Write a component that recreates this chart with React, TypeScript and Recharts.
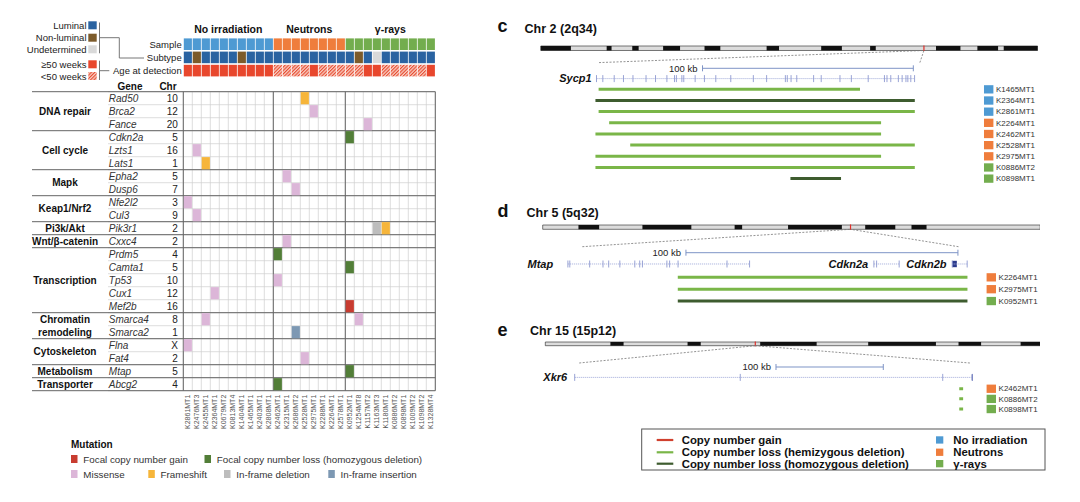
import React from 'react';
import {
  ComposedChart, Scatter, Line, XAxis, YAxis,
  ReferenceLine, ReferenceArea, ReferenceDot,
} from 'recharts';

const FONT = '"Liberation Sans", Arial, Helvetica, sans-serif';

// ---------- oncoprint: samples in column order ----------
const samples = [
  'K2861MT1', 'K2476MT3', 'K2455MT1', 'K2364MT1', 'K0679MT2', 'K0813MT4', 'K1404MT1', 'K1465MT1', 'K2403MT1', 'K2808MT1',
  'K2462MT1', 'K2315MT1', 'K2686MT2', 'K2528MT1', 'K2975MT1', 'K2288MT1', 'K2264MT1', 'K2578MT1',
  'K0952MT1', 'K1254MT8', 'K1157MT2', 'K1163MT3', 'K1180MT1', 'K0886MT2', 'K0898MT1', 'K1009MT2', 'K1098MT2', 'K1328MT4',
];
const treatments = [
  'none', 'none', 'none', 'none', 'none', 'none', 'none', 'none', 'none', 'none',
  'neutrons', 'neutrons', 'neutrons', 'neutrons', 'neutrons', 'neutrons', 'neutrons', 'neutrons',
  'gamma', 'gamma', 'gamma', 'gamma', 'gamma', 'gamma', 'gamma', 'gamma', 'gamma', 'gamma',
];
const subtypes = [
  'luminal', 'non-luminal', 'luminal', 'luminal', 'luminal', 'luminal', 'non-luminal', 'luminal', 'luminal', 'luminal',
  'luminal', 'luminal', 'luminal', 'luminal', 'luminal', 'luminal', 'luminal', 'luminal',
  'luminal', 'non-luminal', 'luminal', 'undetermined', 'luminal', 'luminal', 'luminal', 'luminal', 'luminal', 'luminal',
];
const ageOver50 = [
  true, true, true, true, true, true, true, true, true, true,
  false, false, false, false, true, false, false, false,
  false, false, true, true, false, false, false, false, false, true,
];
const treatmentKeys = ['none', 'neutrons', 'gamma'];
const treatmentLabels = ['No irradiation', 'Neutrons', 'γ-rays'];
const headerRowLabels = ['Sample', 'Subtype', 'Age at detection'];

const genes = ['Rad50', 'Brca2', 'Fance', 'Cdkn2a', 'Lzts1', 'Lats1', 'Epha2', 'Dusp6', 'Nfe2l2', 'Cul3', 'Pik3r1', 'Cxxc4',
  'Prdm5', 'Camta1', 'Tp53', 'Cux1', 'Mef2b', 'Smarca4', 'Smarca2', 'Flna', 'Fat4', 'Mtap', 'Abcg2'];
const chromosomes = ['10', '12', '20', '5', '16', '1', '5', '7', '3', '9', '2', '2',
  '4', '5', '10', '12', '16', '8', '1', 'X', '2', '5', '4'];
const pathwayNames = ['DNA repair', 'Cell cycle', 'Mapk', 'Keap1/Nrf2', 'Pi3k/Akt', 'Wnt/β-catenin', 'Transcription',
  'Chromatin remodeling', 'Cytoskeleton', 'Metabolism', 'Transporter'];
const pathwaySizes = [3, 3, 2, 2, 1, 1, 5, 2, 2, 1, 1];

// [gene, sample, mutation]
const mutations = [
  ['Rad50', 'K2528MT1', 'frameshift'],
  ['Brca2', 'K2975MT1', 'missense'],
  ['Fance', 'K1157MT2', 'missense'],
  ['Cdkn2a', 'K0952MT1', 'loss'],
  ['Lzts1', 'K2476MT3', 'missense'],
  ['Lats1', 'K2455MT1', 'frameshift'],
  ['Epha2', 'K2315MT1', 'missense'],
  ['Dusp6', 'K2686MT2', 'missense'],
  ['Nfe2l2', 'K2861MT1', 'missense'],
  ['Cul3', 'K2476MT3', 'missense'],
  ['Pik3r1', 'K1163MT3', 'deletion'],
  ['Pik3r1', 'K1180MT1', 'frameshift'],
  ['Cxxc4', 'K2315MT1', 'missense'],
  ['Prdm5', 'K2462MT1', 'loss'],
  ['Camta1', 'K0952MT1', 'loss'],
  ['Tp53', 'K2462MT1', 'missense'],
  ['Cux1', 'K2364MT1', 'missense'],
  ['Mef2b', 'K0952MT1', 'gain'],
  ['Smarca4', 'K2455MT1', 'missense'],
  ['Smarca4', 'K1254MT8', 'missense'],
  ['Smarca2', 'K2686MT2', 'insertion'],
  ['Flna', 'K2861MT1', 'missense'],
  ['Fat4', 'K2528MT1', 'missense'],
  ['Mtap', 'K0952MT1', 'loss'],
  ['Abcg2', 'K2462MT1', 'loss'],
];

// ---------- c: Chr 2 (2q34) ----------
const chr2Length = 132;
const chr2DarkBands = [[0, 8], [17.5, 18.8], [24.3, 26], [32.5, 37], [43.5, 47.7], [60, 63.3], [74.5, 80], [87.5, 89],
  [105, 111.5], [116, 121.5], [123, 132]];
const chr2Mark = 101.8;
const sycp1Exons = [0, 3, 8.4, 12.8, 17.3, 23.5, 28, 33.4, 37, 37.9, 40.5, 41.4, 46.8, 51.2, 56.6, 63.7, 74.4, 80.7,
  89.6, 90.5, 92.3, 95, 103, 106.6, 115.5, 120.9, 128.9, 136.6, 137.8, 139.6, 143.2, 145, 146.8, 147.7, 149.1, 150.9];
const chr2Samples = ['K1465MT1', 'K2364MT1', 'K2861MT1', 'K2264MT1', 'K2462MT1', 'K2528MT1', 'K2975MT1', 'K0886MT2', 'K0898MT1'];
const chr2Starts = [1, -0.5, 1, 6, -0.5, 16, -0.5, -0.5, 92];
const chr2Ends = [125, 151, 151, 135, 135, 151, 135, 151, 116];
const chr2Kinds = ['hemi', 'homo', 'hemi', 'hemi', 'hemi', 'hemi', 'hemi', 'hemi', 'homo'];

// ---------- d: Chr 5 (5q32) ----------
const chr5Length = 132.2;
const chr5DarkBands = [[9.5, 15], [26.5, 39.5], [51, 53], [65.2, 79.5], [85.7, 93.7], [98, 102]];
const chr5Mark = 81.8;
const mtapExons = [0, 0.7, 8, 12.9, 15, 19.1, 24.6, 26.4, 27.4, 36.4, 37.4, 40.5, 58.5, 66.8];
const cdkn2aExons = [112.5, 113.5, 121.8];
const cdkn2bExons = [141.3, 146.8];
const chr5Samples = ['K2264MT1', 'K2975MT1', 'K0952MT1'];
const chr5Starts = [40.4, 40.4, 40.4];
const chr5Ends = [146.9, 146.9, 146.9];
const chr5Kinds = ['hemi', 'hemi', 'homo'];

// ---------- e: Chr 15 (15p12) ----------
const chr15Length = 131.5;
const chr15DarkBands = [[17.3, 20.8], [37.8, 41.3], [57.1, 72.1], [85.8, 103.8], [109.8, 115.8], [126.3, 131.5]];
const chr15Mark = 55.8;
const xkr6Exons = [0, 154.3, 343, 370.7];
const chr15Samples = ['K2462MT1', 'K0886MT2', 'K0898MT1'];
const chr15Starts = [358.4, 358.4, 358.4];
const chr15Ends = [362, 362, 362];
const chr15Kinds = ['hemi', 'hemi', 'hemi'];

// ---------- colours ----------
const treatmentColors: Record<string, string> = { none: '#4e9ad3', neutrons: '#ef7d3c', gamma: '#73ad4e' };
const subtypeColors: Record<string, string> = { luminal: '#2a63a1', 'non-luminal': '#7c5b2b', undetermined: '#d9d9d9' };
const AGE_OLD = '#e8472d';
const mutationColors: Record<string, string> = {
  gain: '#c83c30', loss: '#527e38', missense: '#dcb6d8', frameshift: '#f6b53a', deletion: '#bdbdbd', insertion: '#7d98b3',
};
const cnvColors: Record<string, string> = { gain: '#d0402e', hemi: '#7ab648', homo: '#3e5c2f' };
const GENE_COLOR = '#8d99d0';

// ---------- oncoprint layout ----------
const GRID = { left: 183.3, colW: 9, rowH: 13 };
const colAt = (px: number) => -0.5 + (px - GRID.left) / GRID.colW;

const pathwayStarts = pathwaySizes.map((_, i) => pathwaySizes.slice(0, i).reduce((a, b) => a + b, 0));
const pathwayCenters = pathwayStarts.map((s, i) => s + (pathwaySizes[i] - 1) / 2);
const pathwayBounds = [-0.5, ...pathwayStarts.map((s, i) => s + pathwaySizes[i] - 0.5)];
const treatmentCenters = treatmentKeys.map((k) => {
  const idx = treatments.map((t, i) => (t === k ? i : -1)).filter((i) => i >= 0);
  return (idx[0] + idx[idx.length - 1]) / 2;
});

const mutationCells = mutations.map(([g, s, t]) => ({ col: samples.indexOf(s), row: genes.indexOf(g), type: t }));
const headerCells = samples.flatMap((_, i) => [
  { col: i, row: 0, fill: treatmentColors[treatments[i]] },
  { col: i, row: 1, fill: subtypeColors[subtypes[i]] },
  { col: i, row: 2, fill: ageOver50[i] ? AGE_OLD : 'url(#hatch50)' },
]);

const MutCell = (p: any) => (
  <rect x={p.cx - 4.1} y={p.cy - 6.1} width={8.2} height={12.2} fill={mutationColors[p.payload.type]} />
);
const HeaderCell = (p: any) => (
  <rect x={p.cx - 4.1} y={p.cy - 5.8} width={8.2} height={11.6} fill={p.payload.fill} />
);

const GeneTick = ({ x, y, payload }: any) => (
  <g>
    <text x={x - 74.5} y={y} dy="0.35em" fontSize={10} fontStyle="italic" fill="#333">{genes[payload.value]}</text>
    <text x={x - 5.5} y={y} dy="0.35em" fontSize={10} textAnchor="end" fill="#222">{chromosomes[payload.value]}</text>
  </g>
);

const GroupTick = ({ x, y, payload }: any) => {
  const i = pathwayCenters.findIndex((c) => Math.abs(c - payload.value) < 1e-6);
  const name = pathwayNames[i] || '';
  const lines = name.length > 14 ? name.split(' ') : [name];
  return (
    <g>
      {lines.map((l, k) => (
        <text key={k} x={x - 118.3} y={y + (k - (lines.length - 1) / 2) * 12.6} dy="0.35em"
          fontSize={10} fontWeight="bold" textAnchor="middle" fill="#111">{l}</text>
      ))}
    </g>
  );
};

const SampleTick = ({ x, y, payload }: any) => (
  <text transform={`translate(${x},${y}) rotate(-90)`} textAnchor="end" dy="0.35em" fontSize={7} fill="#555">
    {samples[payload.value]}
  </text>
);

const TreatmentTick = ({ x, y, payload }: any) => {
  const i = treatmentCenters.indexOf(payload.value);
  return (
    <text x={x} y={y - 4.3} textAnchor="middle" fontSize={10.5} fontWeight="bold" fill="#111">{treatmentLabels[i]}</text>
  );
};

const HeaderRowTick = ({ x, y, payload }: any) => (
  <text x={x - 1.6} y={y} dy="0.35em" textAnchor="end" fontSize={9.5} fill="#222">{headerRowLabels[payload.value]}</text>
);

const Oncoprint = () => (
  <>
    {/* annotation strips */}
    <div style={{ position: 'absolute', left: 0, top: 0 }}>
      <ComposedChart width={440} height={80} margin={{ top: 17.6, right: 4.7, bottom: 2.8, left: 0 }}>
        <XAxis xAxisId="col" dataKey="col" type="number" domain={[-0.5, samples.length - 0.5]} allowDataOverflow
          orientation="top" ticks={treatmentCenters} interval={0} tick={TreatmentTick} tickSize={0} tickMargin={0}
          axisLine={false} tickLine={false} height={20} />
        <YAxis yAxisId="row" dataKey="row" type="number" domain={[-0.5, 2.5]} allowDataOverflow reversed
          ticks={[0, 1, 2]} interval={0} tick={HeaderRowTick} tickSize={0} tickMargin={0}
          axisLine={false} tickLine={false} width={GRID.left} />
        <Scatter xAxisId="col" yAxisId="row" data={headerCells} shape={HeaderCell} isAnimationActive={false} />
      </ComposedChart>
    </div>

    {/* mutation grid */}
    <div style={{ position: 'absolute', left: 0, top: 80 }}>
      <ComposedChart width={440} height={360} margin={{ top: 11.7, right: 4.7, bottom: 4.3, left: 0 }}>
        <XAxis xAxisId="col" dataKey="col" type="number" domain={[-0.5, samples.length - 0.5]} allowDataOverflow
          ticks={samples.map((_, i) => i)} interval={0} tick={SampleTick} tickSize={0} tickMargin={4}
          axisLine={false} tickLine={false} height={45} />
        <YAxis yAxisId="row" dataKey="row" type="number" domain={[-0.5, genes.length - 0.5]} allowDataOverflow reversed
          ticks={genes.map((_, i) => i)} interval={0} tick={GeneTick} tickSize={0} tickMargin={0}
          axisLine={false} tickLine={false} width={GRID.left} />
        <YAxis yAxisId="grp" type="number" domain={[-0.5, genes.length - 0.5]} allowDataOverflow reversed mirror
          ticks={pathwayCenters} interval={0} tick={GroupTick} tickSize={0} tickMargin={0}
          axisLine={false} tickLine={false} />

        {[...samples, ''].map((_, i) => (
          <ReferenceLine key={'v' + i} xAxisId="col" yAxisId="row" x={i - 0.5} stroke="#cfcfcf" strokeWidth={0.7} />
        ))}
        {[...genes, ''].map((_, i) => (
          <ReferenceLine key={'h' + i} xAxisId="col" yAxisId="row" ifOverflow="visible" stroke="#cfcfcf" strokeWidth={0.7}
            segment={[{ x: colAt(108), y: i - 0.5 }, { x: samples.length - 0.5, y: i - 0.5 }]} />
        ))}
        {pathwayBounds.map((b, i) => (
          <ReferenceLine key={'g' + i} xAxisId="col" yAxisId="row" ifOverflow="visible" stroke="#666" strokeWidth={1}
            segment={[{ x: colAt(32), y: b }, { x: samples.length - 0.5, y: b }]} />
        ))}
        {[-0.5, 9.5, 17.5, samples.length - 0.5].map((b) => (
          <ReferenceLine key={'s' + b} xAxisId="col" yAxisId="row" x={b} stroke="#666" strokeWidth={1} />
        ))}

        <Scatter xAxisId="col" yAxisId="row" data={mutationCells} shape={MutCell} isAnimationActive={false} />
      </ComposedChart>
    </div>
  </>
);

// ---------- chromosome panels ----------
const ExonTick = (p: any) => (
  <line x1={p.cx} x2={p.cx} y1={p.cy - 3.5} y2={p.cy + 3.5} stroke={GENE_COLOR} strokeWidth={0.9} />
);
const ScaleTick = (p: any) => (
  <line x1={p.cx} x2={p.cx} y1={p.cy - 3} y2={p.cy + 3} stroke="#7d94c6" strokeWidth={1} />
);

const sideLabel = (text: string, gap: number, style: any) => (p: any) => (
  <text x={p.viewBox.x - gap} y={p.viewBox.y} dy="0.35em" textAnchor="end" {...style}>{text}</text>
);

const PANEL_LEFT = 490;

const GenePanel = ({ L, ideoLength, darkBands, mark, geneDefs, scaleBar, zoomEdges, names, starts, ends, kinds }: any) => {
  const top = L.ideoTop - 4;
  const bottom = L.bar0Y + (names.length - 1) * L.rowPx + 6;
  const toRow = (py: number) => (py - L.bar0Y) / L.rowPx;
  const kbDomain = [(L.ideoLeft - L.originPx) / L.pxPerKb, (L.ideoRight - L.originPx) / L.pxPerKb];
  const markKb = kbDomain[0] + (mark / ideoLength) * (kbDomain[1] - kbDomain[0]);
  const ideoY1 = toRow(L.ideoTop);
  const ideoY2 = toRow(L.ideoBot);
  const geneRow = toRow(L.geneY);
  const scaleRow = toRow(L.scaleY);
  const dashRow = toRow(L.dashY);
  const half = 3.2 / L.rowPx;

  const LegendTick = ({ x, y, payload }: any) => {
    const name = names[payload.value];
    const color = treatmentColors[treatments[samples.indexOf(name)]];
    return (
      <g>
        <rect x={x - 53.6} y={y - 4.1} width={9.4} height={8.3} fill={color} />
        <text x={x - 41.6} y={y} dy="0.35em" fontSize={8} fill="#333">{name}</text>
      </g>
    );
  };

  return (
    <div style={{ position: 'absolute', left: PANEL_LEFT, top }}>
      <ComposedChart width={L.ideoRight - PANEL_LEFT} height={bottom - top}
        margin={{ top: 0, right: 0, bottom: 0, left: L.ideoLeft - PANEL_LEFT }}>
        <XAxis xAxisId="kb" dataKey="kb" type="number" domain={kbDomain} allowDataOverflow hide />
        <XAxis xAxisId="ideo" dataKey="mb" type="number" domain={[0, ideoLength]} allowDataOverflow hide />
        <YAxis yAxisId="row" dataKey="row" type="number" domain={[toRow(top), toRow(bottom)]} allowDataOverflow reversed
          orientation="right" mirror ticks={names.map((_: any, i: number) => i)} interval={0} tick={LegendTick}
          tickSize={0} tickMargin={0} axisLine={false} tickLine={false} />

        {/* ideogram */}
        <ReferenceArea xAxisId="ideo" yAxisId="row" x1={0} x2={ideoLength} y1={ideoY1} y2={ideoY2}
          fill="#dcdcdc" fillOpacity={1} stroke="#222" strokeWidth={0.6} ifOverflow="visible" />
        {darkBands.map(([s, e]: number[], i: number) => (
          <ReferenceArea key={i} xAxisId="ideo" yAxisId="row" x1={s} x2={e} y1={ideoY1} y2={ideoY2}
            fill="#111" fillOpacity={1} ifOverflow="visible" />
        ))}
        <ReferenceLine xAxisId="ideo" yAxisId="row" ifOverflow="visible" stroke="#e0302a" strokeWidth={1.2}
          segment={[{ x: mark, y: ideoY1 - 0.05 }, { x: mark, y: ideoY2 + 0.05 }]} />

        {/* zoom-in guides */}
        {zoomEdges.map((z: number, i: number) => (
          <ReferenceLine key={'z' + i} xAxisId="kb" yAxisId="row" ifOverflow="visible" stroke="#777" strokeWidth={0.8}
            strokeDasharray="2 1.5" segment={[{ x: z, y: dashRow }, { x: markKb, y: ideoY2 }]} />
        ))}

        {/* 100 kb scale bar */}
        <Scatter xAxisId="kb" yAxisId="row" data={scaleBar.map((kb: number) => ({ kb, row: scaleRow }))}
          line={{ stroke: '#7d94c6', strokeWidth: 1 }} shape={ScaleTick} isAnimationActive={false} />
        <ReferenceDot xAxisId="kb" yAxisId="row" x={scaleBar[0]} y={scaleRow} r={0} ifOverflow="visible"
          label={sideLabel('100 kb', 5, { fontSize: 9.5, fill: '#222' })} />

        {/* gene models */}
        {geneDefs.map((g: any) => (
          <Scatter key={g.name} xAxisId="kb" yAxisId="row" data={g.exons.map((kb: number) => ({ kb, row: geneRow }))}
            line={{ stroke: '#a7b0dc', strokeWidth: 0.9, strokeDasharray: '1.2 0.8' }} shape={ExonTick}
            isAnimationActive={false} />
        ))}
        {geneDefs.filter((g: any) => g.block).map((g: any) => (
          <ReferenceArea key={'b' + g.name} xAxisId="kb" yAxisId="row" x1={g.block[0]} x2={g.block[1]}
            y1={geneRow - half} y2={geneRow + half} fill="#2b3a8c" fillOpacity={1} ifOverflow="visible" />
        ))}
        {geneDefs.map((g: any) => (
          <ReferenceDot key={'l' + g.name} xAxisId="kb" yAxisId="row" x={g.exons[0]} y={geneRow} r={0} ifOverflow="visible"
            label={sideLabel(g.name, g.labelGap, { fontSize: 11, fontWeight: 'bold', fontStyle: 'italic', fill: '#111' })} />
        ))}

        {/* copy-number segments */}
        {names.map((n: string, i: number) => (
          <Line key={n} xAxisId="kb" yAxisId="row" data={[{ kb: starts[i], row: i }, { kb: ends[i], row: i }]}
            dataKey="row" stroke={cnvColors[kinds[i]]} strokeWidth={3} dot={false} activeDot={false}
            isAnimationActive={false} />
        ))}
      </ComposedChart>
    </div>
  );
};

const chr2Layout = { ideoLeft: 540.8, ideoRight: 1037.6, ideoTop: 45.7, ideoBot: 50.2, dashY: 62.3, scaleY: 68, geneY: 78.3,
  bar0Y: 89, rowPx: 11.16, originPx: 596.5, pxPerKb: 2.108 };
const chr5Layout = { ideoLeft: 542.7, ideoRight: 1040.2, ideoTop: 225, ideoBot: 229.3, dashY: 246.7, scaleY: 252.7, geneY: 264,
  bar0Y: 277.3, rowPx: 11.85, originPx: 567.9, pxPerKb: 2.72 };
const chr15Layout = { ideoLeft: 545.3, ideoRight: 1040.2, ideoTop: 342.3, ideoBot: 346, dashY: 363.3, scaleY: 367.3, geneY: 377.7,
  bar0Y: 389, rowPx: 10.15, originPx: 574.7, pxPerKb: 1.073 };

const subtypeLegend = [['Luminal', 'luminal', 25.3], ['Non-luminal', 'non-luminal', 37.7], ['Undetermined', 'undetermined', 49.3]];
const mutationLegend = [
  ['gain', 'Focal copy number gain', 71, 459], ['loss', 'Focal copy number loss (homozygous deletion)', 204.5, 459],
  ['missense', 'Missense', 71, 474], ['frameshift', 'Frameshift', 148.3, 474],
  ['deletion', 'In-frame deletion', 224, 474], ['insertion', 'In-frame insertion', 328.3, 474],
];
const cnvLegend = [['gain', 'Copy number gain', 440], ['hemi', 'Copy number loss (hemizygous deletion)', 452.3],
  ['homo', 'Copy number loss (homozygous deletion)', 463.7]];

const Overlay = () => (
  <svg width={1080} height={502} style={{ position: 'absolute', left: 0, top: 0, pointerEvents: 'none' }} fontFamily={FONT}>
    <defs>
      <pattern id="hatch50" width={2.4} height={2.4} patternUnits="userSpaceOnUse" patternTransform="rotate(45)">
        <rect width={2.4} height={2.4} fill="#f7cfc3" />
        <rect width={1.1} height={2.4} fill={AGE_OLD} />
      </pattern>
    </defs>

    {/* subtype / age keys */}
    {subtypeLegend.map(([label, key, y]: any) => (
      <g key={key}>
        <text x={86.5} y={y} dominantBaseline="central" textAnchor="end" fontSize={9.5} fill="#222">{label}</text>
        <rect x={88.3} y={y - 4} width={8.4} height={8} fill={subtypeColors[key]} />
      </g>
    ))}
    <text x={86.5} y={64.3} dominantBaseline="central" textAnchor="end" fontSize={9.5} fill="#222">≥50 weeks</text>
    <rect x={88.3} y={60.3} width={8.4} height={8} fill={AGE_OLD} />
    <text x={86.5} y={76} dominantBaseline="central" textAnchor="end" fontSize={9.5} fill="#222">&lt;50 weeks</text>
    <rect x={88.3} y={72} width={8.4} height={8} fill="url(#hatch50)" />
    <g stroke="#777" strokeWidth={1} fill="none">
      <line x1={99.5} x2={99.5} y1={22.5} y2={53.3} />
      <polyline points="99.5,37.7 119.3,37.7 119.3,58 144,58" />
      <line x1={99.5} x2={99.5} y1={60.7} y2={80} />
      <line x1={99.5} x2={109.3} y1={70.7} y2={70.7} />
    </g>
    <text x={130} y={86} dominantBaseline="central" textAnchor="middle" fontSize={10} fontWeight="bold" fill="#111">Gene</text>
    <text x={168} y={86} dominantBaseline="central" textAnchor="middle" fontSize={10} fontWeight="bold" fill="#111">Chr</text>

    {/* mutation key */}
    <text x={71} y={444} dominantBaseline="central" fontSize={10} fontWeight="bold" fill="#111">Mutation</text>
    {mutationLegend.map(([key, label, x, y]: any) => (
      <g key={key}>
        <rect x={x} y={y - 4} width={6.5} height={8} fill={mutationColors[key]} />
        <text x={x + 12.3} y={y} dominantBaseline="central" fontSize={9.8} fill="#333">{label}</text>
      </g>
    ))}

    {/* panel titles */}
    <text x={497.5} y={32} fontSize={18} fontWeight="bold" fill="#111">c</text>
    <text x={524.6} y={33.3} fontSize={12.5} fontWeight="bold" fill="#111">Chr 2 (2q34)</text>
    <text x={497.5} y={217} fontSize={18} fontWeight="bold" fill="#111">d</text>
    <text x={526.5} y={216.5} fontSize={12.5} fontWeight="bold" fill="#111">Chr 5 (5q32)</text>
    <text x={497.5} y={335.5} fontSize={18} fontWeight="bold" fill="#111">e</text>
    <text x={530} y={335} fontSize={12.5} fontWeight="bold" fill="#111">Chr 15 (15p12)</text>

    {/* copy number key */}
    <rect x={641.7} y={429} width={403.3} height={41} fill="none" stroke="#555" strokeWidth={1} />
    {cnvLegend.map(([key, label, y]: any) => (
      <g key={key}>
        <line x1={656.7} x2={673.3} y1={y} y2={y} stroke={cnvColors[key]} strokeWidth={2.2} />
        <text x={681.7} y={y} dominantBaseline="central" fontSize={11.4} fontWeight="bold" fill="#111">{label}</text>
      </g>
    ))}
    {treatmentKeys.map((k, i) => (
      <g key={k}>
        <rect x={936} y={cnvLegend[i][2] as number - 3.7} width={7.3} height={7.3} fill={treatmentColors[k]} />
        <text x={953.3} y={cnvLegend[i][2] as number} dominantBaseline="central" fontSize={11.4} fontWeight="bold"
          fill="#111">{treatmentLabels[i]}</text>
      </g>
    ))}
  </svg>
);

export default function App() {
  return (
    <div style={{ position: 'absolute', left: 0, top: 0, width: 1080, height: 502, background: '#fff', fontFamily: FONT, overflow: 'hidden' }}>
      <Oncoprint />
      <GenePanel L={chr2Layout} ideoLength={chr2Length} darkBands={chr2DarkBands} mark={chr2Mark}
        geneDefs={[{ name: 'Sycp1', exons: sycp1Exons, labelGap: 4.9 }]}
        scaleBar={[50.3, 150.3]} zoomEdges={[1.2, 153.4]}
        names={chr2Samples} starts={chr2Starts} ends={chr2Ends} kinds={chr2Kinds} />
      <GenePanel L={chr5Layout} ideoLength={chr5Length} darkBands={chr5DarkBands} mark={chr5Mark}
        geneDefs={[
          { name: 'Mtap', exons: mtapExons, labelGap: 14.7 },
          { name: 'Cdkn2a', exons: cdkn2aExons, labelGap: 5.7 },
          { name: 'Cdkn2b', exons: cdkn2bExons, labelGap: 5.7, block: [141.3, 143] },
        ]}
        scaleBar={[43.4, 143.4]} zoomEdges={[5.3, 143.6]}
        names={chr5Samples} starts={chr5Starts} ends={chr5Ends} kinds={chr5Kinds} />
      <GenePanel L={chr15Layout} ideoLength={chr15Length} darkBands={chr15DarkBands} mark={chr15Mark}
        geneDefs={[{ name: 'Xkr6', exons: xkr6Exons, labelGap: 7.5, block: [370, 371.2] }]}
        scaleBar={[187.6, 287.6]} zoomEdges={[4.2, 368.3]}
        names={chr15Samples} starts={chr15Starts} ends={chr15Ends} kinds={chr15Kinds} />
      <Overlay />
    </div>
  );
}
